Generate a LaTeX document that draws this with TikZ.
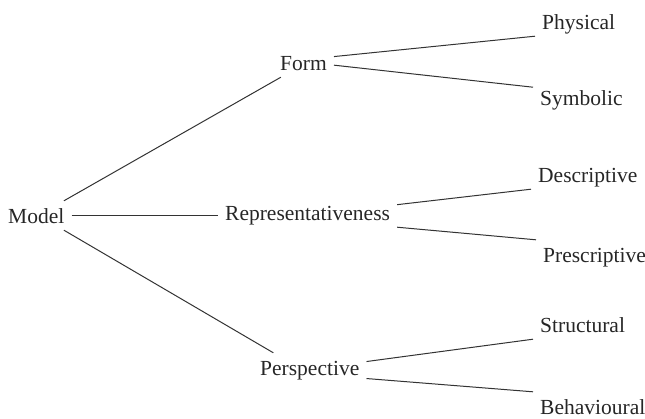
\documentclass[tikz,border=0pt]{standalone}
\usepackage{fontspec}
\setmainfont{Liberation Serif}
\usepackage{tikz}

\begin{document}
\begin{tikzpicture}[x=1pt, y=-1pt,
    lbl/.style={anchor=base west, inner xsep=7pt, inner ysep=7pt,
        text height=15pt, text depth=0pt, text=black!85,
        font=\fontsize{21.5}{24}\selectfont},
    edge/.style={draw=black!80, line width=1pt}]
                \useasboundingbox (0,0) rectangle (645,418);

                % Nodes
                \node[lbl] (model) at (1,223) {Model};
                \node[lbl] (form) at (273,70) {Form};
                \node[lbl] (rep) at (218,220) {Representativeness};
                \node[lbl] (persp) at (253,375) {Perspective};
                \node[lbl] (phys) at (535,29) {Physical};
                \node[lbl] (symb) at (533,105) {Symbolic};
                \node[lbl] (desc) at (531,182) {Descriptive};
                \node[lbl] (presc) at (536,262) {Prescriptive};
                \node[lbl] (struct) at (533,332) {Structural};
                \node[lbl] (behav) at (533,414) {Behavioural};

                % Edges
                \draw[edge] (model.28)--(form.213);
                \draw[edge] (model.east)--(model.east -| rep.west);
                \draw[edge] (model.-28)--(persp.158);
                \draw[edge] (form.11)--(phys.south west);
                \draw[edge] (form.-5)--(symb.168);
                \draw[edge] (rep.5)--(desc.south west);
                \draw[edge] (rep.south east)--(presc.north west);
                \draw[edge] (persp.6)--(struct.south west);
                \draw[edge] (persp.-11)--(behav.north west);
            \end{tikzpicture}
\end{document}
